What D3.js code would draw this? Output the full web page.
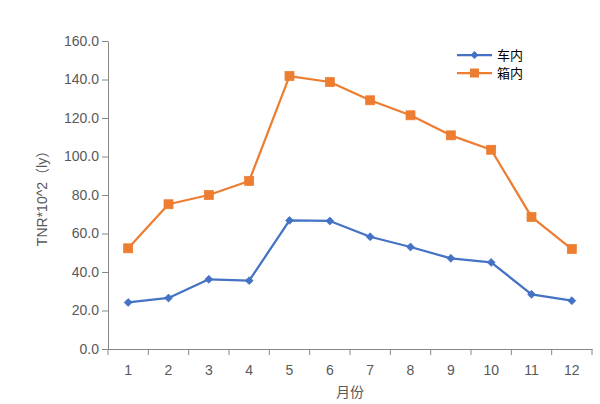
<!DOCTYPE html>
<html><head><meta charset="utf-8">
<script src="https://cdn.jsdelivr.net/npm/d3@7"></script>
<style>body{margin:0;background:#fff}svg{display:block}</style>
</head><body>
<script>
const months = ["1","2","3","4","5","6","7","8","9","10","11","12"];
const carValues = [24.2,26.5,36.2,35.5,66.8,66.5,58.3,53.0,47.1,45.0,28.4,25.1];
const boxValues = [52.3,75.2,80.0,87.3,141.8,138.7,129.2,121.4,111.0,103.5,68.6,51.9];
const yTicks = [0,20,40,60,80,100,120,140,160];
const seriesNames = ["车内","箱内"];
const colors = ["#4472C4","#ED7D31"];

const W=600,H=404;
const svg=d3.select("body").append("svg").attr("width",W).attr("height",H);
const x=d3.scaleBand().domain(months).range([108,592]);
const y=d3.scaleLinear().domain([0,160]).range([349,41]);
const font="'Liberation Sans',Arial,'Noto Sans CJK SC',sans-serif";
const axisColor="#868686";

// y axis
const ya=svg.append("g").attr("transform","translate(108,0)")
  .call(d3.axisLeft(y).tickValues(yTicks).tickFormat(d3.format(".1f")).tickSize(6).tickSizeOuter(0));
ya.select(".domain").attr("stroke",axisColor).attr("stroke-width",1);
ya.selectAll(".tick line").attr("stroke",axisColor);
ya.selectAll("text").attr("fill","#595959").style("font-family",font).style("font-size","14px").attr("x",-9);

// x axis
const xa=svg.append("g").attr("transform","translate(0,349)")
  .call(d3.axisBottom(x).tickSize(0).tickSizeOuter(0));
xa.select(".domain").attr("stroke",axisColor);
xa.selectAll("text").attr("fill","#595959").style("font-family",font).style("font-size","14px").attr("dy","0").attr("y",26);
const bounds=months.map(m=>x(m)).concat([x.range()[1]]);
svg.append("g").selectAll("line").data(bounds).join("line")
  .attr("x1",d=>d).attr("x2",d=>d).attr("y1",349).attr("y2",355).attr("stroke",axisColor);

// axis titles
svg.append("text").attr("transform","translate(47,195) rotate(-90)").attr("text-anchor","middle")
  .attr("fill","#595959").style("font-family",font).style("font-size","14px").text("TNR*10^2（ly）");
svg.append("text").attr("x",350).attr("y",397).attr("text-anchor","middle")
  .attr("fill","#595959").style("font-family","'Noto Sans CJK SC',sans-serif").style("font-size","14px").text("月份");

const line=d3.line().x((d,i)=>x(months[i])+x.bandwidth()/2).y(d=>y(d));
const data=[carValues,boxValues];
data.forEach((vals,si)=>{
  svg.append("path").datum(vals).attr("d",line).attr("fill","none").attr("stroke",colors[si]).attr("stroke-width",2.25).attr("stroke-linejoin","round");
  const g=svg.append("g");
  vals.forEach((v,i)=>{
    const cx=x(months[i])+x.bandwidth()/2, cy=y(v);
    if(si===0){
      g.append("path").attr("d",d3.symbol(d3.symbolDiamond2,40)()).attr("transform",`translate(${cx},${cy})`).attr("fill",colors[si]).attr("stroke",colors[si]).attr("stroke-width",0.75);
    } else {
      g.append("rect").attr("x",cx-4.5).attr("y",cy-4.5).attr("width",9).attr("height",9).attr("fill",colors[si]).attr("stroke",colors[si]).attr("stroke-width",0.75);
    }
  });
});

// legend
const leg=svg.append("g");
seriesNames.forEach((n,i)=>{
  const ly=55+i*18;
  leg.append("line").attr("x1",457).attr("x2",492).attr("y1",ly).attr("y2",ly).attr("stroke",colors[i]).attr("stroke-width",2.25);
  if(i===0) leg.append("path").attr("d",d3.symbol(d3.symbolDiamond2,40)()).attr("transform",`translate(474.5,${ly})`).attr("fill",colors[i]);
  else leg.append("rect").attr("x",470).attr("y",ly-4.5).attr("width",9).attr("height",9).attr("fill",colors[i]);
  leg.append("text").attr("x",497).attr("y",ly+5).attr("fill","#000").style("font-family","'Noto Sans CJK SC',sans-serif").style("font-size","13px").text(n);
});
</script>
</body></html>
